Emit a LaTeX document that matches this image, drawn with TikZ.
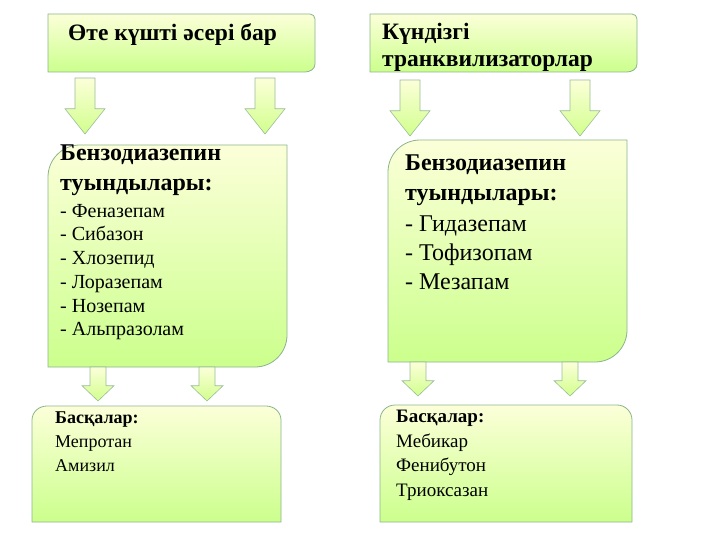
\documentclass[tikz,border=0pt]{standalone}
\usepackage{fontspec}
\setmainfont{Liberation Serif}
\newcommand{\myarrow}[4]{% x, ytop, ybottom, halfwidth
  \pgfmathsetmacro{\ym}{#3-0.45*(#3-#2)}
  \path[arr] ({#1-#4},#2) -- ({#1+#4},#2) -- ({#1+#4},\ym) -- ({#1+2*#4},\ym) -- (#1,#3) -- ({#1-2*#4},\ym) -- ({#1-#4},\ym) -- cycle;}
\begin{document}
\begin{tikzpicture}[x=1pt,y=-1pt,
  boxfill/.style={top color=green!8!yellow!15, bottom color=green!45!yellow!45, draw=green!35!black!45, line width=0.8pt},
  arr/.style={top color=green!8!yellow!15, bottom color=green!40!yellow!45, draw=green!35!black!40, line width=0.6pt},
  txt/.style={anchor=north west, align=left, inner sep=0pt}]
\useasboundingbox (0,0) rectangle (720,540);
% top boxes
\path[boxfill] (48,14) -- (310,14) to[out=0,in=90] (315,19) -- (315,64) to[out=-90,in=0] (305,72) -- (48,72) -- cycle;
\path[boxfill] (370,14) -- (632,14) to[out=0,in=90] (637,19) -- (637,64) to[out=-90,in=0] (627,72) -- (370,72) -- cycle;
\node[txt,font=\fontsize{23.5}{26}\selectfont\bfseries] (t1) at (68,23) {Өте күшті әсері бар};
\node[txt,font=\fontsize{23.5}{27}\selectfont\bfseries] (t2) at (382,23) {Күндізгі\\транквилизаторлар};
\myarrow{85}{78}{134}{10}
\myarrow{265}{78}{134}{10}
\myarrow{410}{80}{136}{10}
\myarrow{580}{80}{136}{10}
% middle boxes
\path[boxfill] (80,145) -- (287,145) -- (287,335) to[out=-90,in=0] (255,367) -- (48,367) -- (48,177) to[out=90,in=180] cycle;
\path[boxfill] (420,140) -- (627,140) -- (627,330) to[out=-90,in=0] (595,362) -- (388,362) -- (388,172) to[out=90,in=180] cycle;
\node[txt,font=\fontsize{24}{30}\selectfont\bfseries] (m1) at (60,145) {Бензодиазепин\\туындылары:};
\node[txt,font=\fontsize{20}{23.7}\selectfont] (m1l) at (60,204) {- Феназепам\\- Сибазон\\- Хлозепид\\- Лоразепам\\- Нозепам\\- Альпразолам};
\node[txt,font=\fontsize{24}{30}\selectfont\bfseries] (m2) at (405,155) {Бензодиазепин\\туындылары:};
\node[txt,font=\fontsize{24}{29}\selectfont] (m2l) at (405,216) {- Гидазепам\\- Тофизопам\\- Мезапам};
\myarrow{98}{367}{401}{8}
\myarrow{207}{367}{401}{8}
\myarrow{418}{362}{396}{8}
\myarrow{570}{362}{396}{8}
% bottom boxes
\path[boxfill] (32,420) to[out=90,in=180] (47,406) -- (266,406) to[out=0,in=90] (281,420) -- (281,522) -- (32,522) -- cycle;
\path[boxfill] (380,420) to[out=90,in=180] (395,405) -- (617,405) to[out=0,in=90] (632,420) -- (632,522) -- (380,522) -- cycle;
\node[txt,font=\fontsize{18}{24}\selectfont] (b1) at (55,412) {\textbf{Басқалар:}\\Мепротан\\Амизил};
\node[txt,font=\fontsize{19}{24.5}\selectfont] (b2) at (396,410) {\textbf{Басқалар:}\\Мебикар\\Фенибутон\\Триоксазан};
\end{tikzpicture}
\end{document}
